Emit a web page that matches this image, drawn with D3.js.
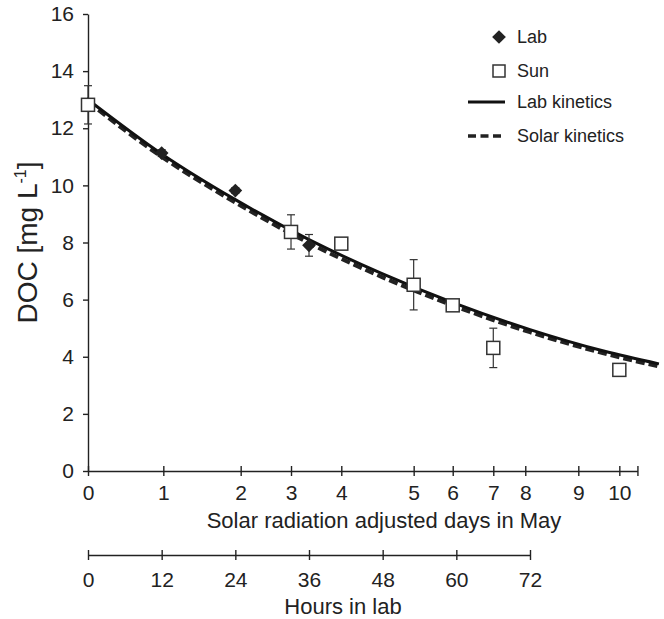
<!DOCTYPE html>
<html><head><meta charset="utf-8">
<script src="https://cdn.jsdelivr.net/npm/d3@7"></script>
<style>body{margin:0;background:#fff}text{font-family:"Liberation Sans",Arial,sans-serif;fill:#222}</style>
</head><body><svg id="c" width="664" height="619"></svg>
<script>
// ---- data ----
const labHours = [0, 12, 24, 36];
const labDOC   = [12.85, 11.13, 9.82, 7.90];
const labErr   = [0.10, 0.12, 0.10, 0.38];

const sunDays  = [0, 3, 4, 5, 6, 7, 10];
const sunDOC   = [12.82, 8.37, 7.96, 6.52, 5.80, 4.31, 3.54];
const sunErr   = [0.67, 0.60, 0.0, 0.88, 0.0, 0.69, 0.0];

// solar-adjusted day ticks and their equivalent lab-hour positions
const dayTicks      = [0, 1, 2, 3, 4, 5, 6, 7, 8, 9, 10, 10.5];
const dayTickHours  = [0, 12.27, 24.87, 33.07, 41.26, 53.05, 59.41, 66.02, 71.23, 79.87, 86.55, 89.5];
const hourTicks     = [0, 12, 24, 36, 48, 60, 72];
const yTicks        = [0, 2, 4, 6, 8, 10, 12, 14, 16];

// kinetics curves
const kinHours  = [0, 12, 24, 36, 48, 60, 72, 84, 93];
const labKin    = [13.0, 11.1, 9.5, 8.1, 6.9, 5.85, 4.95, 4.2, 3.75];
const solarKin  = [12.92, 11.0, 9.4, 7.98, 6.78, 5.75, 4.86, 4.12, 3.66];

const legendLabels = ["Lab", "Sun", "Lab kinetics", "Solar kinetics"];

// ---- layout ----
const svg = d3.select("#c");
const x = d3.scaleLinear().domain([0, 72]).range([88, 530]);
const y = d3.scaleLinear().domain([0, 16]).range([471, 14]);
const dayScale = d3.scaleLinear().domain(dayTicks).range(dayTickHours.map(h => x(h)));
const FONT = 21;

// y axis
const gy = svg.append("g").attr("transform", `translate(${x(0)},0)`)
  .call(d3.axisLeft(y).tickValues(yTicks).tickSize(5).tickSizeOuter(0).tickPadding(9));
gy.selectAll("text").style("font-size", FONT + "px");

// days axis
const gd = svg.append("g").attr("transform", `translate(0,${y(0)})`)
  .call(d3.axisBottom(dayScale).tickValues(dayTicks).tickSize(5).tickSizeOuter(0).tickPadding(9)
    .tickFormat(d => Number.isInteger(d) ? d : ""));
gd.selectAll(".tick line").attr("y1", -5).attr("y2", 5);
gd.selectAll("text").style("font-size", FONT + "px");

// hours axis
const HY = 555;
const gh = svg.append("g").attr("transform", `translate(0,${HY})`)
  .call(d3.axisBottom(x).tickValues(hourTicks).tickSize(5).tickSizeOuter(0).tickPadding(12));
gh.selectAll(".tick line").attr("y1", -5).attr("y2", 5);
gh.selectAll("text").style("font-size", FONT + "px");

svg.selectAll(".domain, .tick line").attr("stroke", "#222").attr("stroke-width", 1.4);

// axis titles
svg.append("text").attr("x", 384).attr("y", 528).attr("text-anchor", "middle")
  .style("font-size", "22px").text("Solar radiation adjusted days in May");
svg.append("text").attr("x", 343).attr("y", 614).attr("text-anchor", "middle")
  .style("font-size", "22px").text("Hours in lab");
const yl = svg.append("text").attr("transform", `translate(37,${(y(0)+y(16))/2}) rotate(-90)`)
  .attr("text-anchor", "middle").style("font-size", "28px");
yl.append("tspan").text("DOC [mg L");
yl.append("tspan").attr("dy", -11).style("font-size", "16px").text("-1");
yl.append("tspan").attr("dy", 11).text("]");

// kinetics curves
const line = d3.line().curve(d3.curveMonotoneX);
svg.append("path")
  .attr("d", line(kinHours.map((h, i) => [x(h), y(solarKin[i])])))
  .attr("fill", "none").attr("stroke", "#222").attr("stroke-width", 4).attr("stroke-dasharray", "9,4");
svg.append("path")
  .attr("d", line(kinHours.map((h, i) => [x(h), y(labKin[i])])))
  .attr("fill", "none").attr("stroke", "#111").attr("stroke-width", 3);

// error bars
function errBar(px, v, e) {
  if (!e) return;
  const g = svg.append("g").attr("stroke", "#333").attr("stroke-width", 1.2);
  g.append("line").attr("x1", px).attr("x2", px).attr("y1", y(v + e)).attr("y2", y(v - e));
  g.append("line").attr("x1", px - 4).attr("x2", px + 4).attr("y1", y(v + e)).attr("y2", y(v + e));
  g.append("line").attr("x1", px - 4).attr("x2", px + 4).attr("y1", y(v - e)).attr("y2", y(v - e));
}
labHours.forEach((h, i) => errBar(x(h), labDOC[i], labErr[i]));
sunDays.forEach((d, i) => errBar(dayScale(d), sunDOC[i], sunErr[i]));

// lab diamonds
const diamond = d3.symbol().type(d3.symbolDiamond2).size(120);
svg.selectAll(".lab").data(labHours).join("path")
  .attr("transform", (h, i) => `translate(${x(h)},${y(labDOC[i])})`)
  .attr("d", diamond).attr("fill", "#222");

// sun squares
const S = 13;
svg.selectAll(".sun").data(sunDays).join("rect")
  .attr("x", d => dayScale(d) - S / 2).attr("y", (d, i) => y(sunDOC[i]) - S / 2)
  .attr("width", S).attr("height", S)
  .attr("fill", "#fff").attr("stroke", "#333").attr("stroke-width", 1.5);

// legend
const LX = 499, TX = 517, LFS = 18;
const ly = [37, 71, 102, 136];
svg.append("path").attr("transform", `translate(${LX},${ly[0]})`).attr("d", diamond).attr("fill", "#222");
svg.append("rect").attr("x", LX - 6).attr("y", ly[1] - 6).attr("width", 12).attr("height", 12)
  .attr("fill", "#fff").attr("stroke", "#333").attr("stroke-width", 1.5);
svg.append("line").attr("x1", 468).attr("x2", 505).attr("y1", ly[2]).attr("y2", ly[2])
  .attr("stroke", "#111").attr("stroke-width", 3);
svg.append("line").attr("x1", 468).attr("x2", 505).attr("y1", ly[3]).attr("y2", ly[3])
  .attr("stroke", "#222").attr("stroke-width", 3.5).attr("stroke-dasharray", "8,4.5");
legendLabels.forEach((t, i) => {
  svg.append("text").attr("x", TX).attr("y", ly[i]).attr("dy", "0.36em")
    .style("font-size", LFS + "px").text(t);
});
</script></body></html>
